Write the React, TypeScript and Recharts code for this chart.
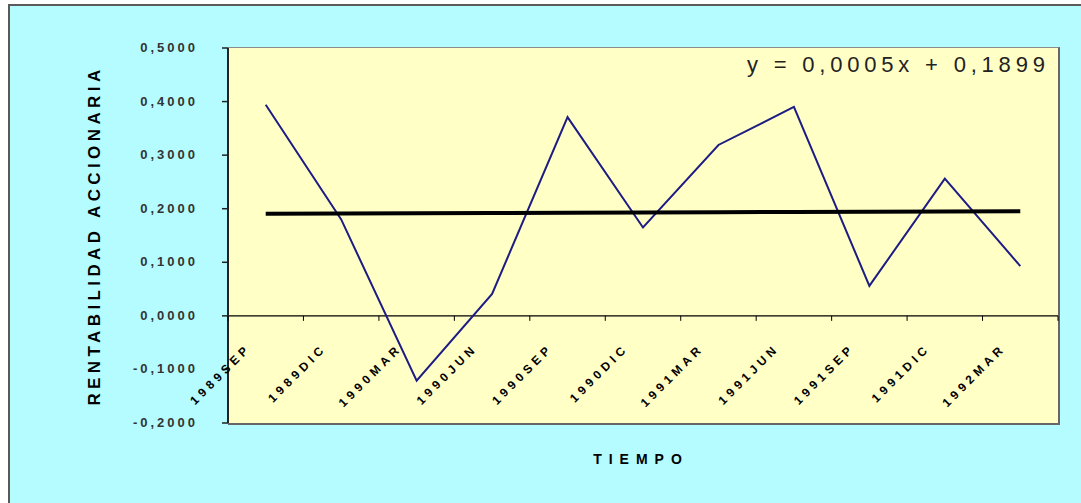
import React from 'react';
import { ComposedChart, Line, XAxis, YAxis, ReferenceLine } from 'recharts';

// Trimestres y rentabilidad accionaria
const categories = ['1989SEP', '1989DIC', '1990MAR', '1990JUN', '1990SEP', '1990DIC', '1991MAR', '1991JUN', '1991SEP', '1991DIC', '1992MAR'];
const rentabilidad = [0.394, 0.18, -0.121, 0.041, 0.371, 0.165, 0.319, 0.39, 0.056, 0.256, 0.093];
const yTicks = [-0.2, -0.1, 0, 0.1, 0.2, 0.3, 0.4, 0.5];

// Tendencia lineal: y = 0,0005x + 0,1899
const TREND_SLOPE = 0.0005;
const TREND_INTERCEPT = 0.1899;
const equationLabel = 'y = 0,0005x + 0,1899';

const W = 1081;
const H = 503;
const PLOT = { left: 228, top: 48, right: 1058, bottom: 423 };
const Y_MIN = -0.2;
const Y_MAX = 0.5;
const ZERO_Y = PLOT.top + (Y_MAX / (Y_MAX - Y_MIN)) * (PLOT.bottom - PLOT.top);
const BAND = (PLOT.right - PLOT.left) / categories.length;

const FONT = '"Liberation Sans", Arial, sans-serif';

const data = categories.map((periodo, i) => ({
  periodo,
  rent: rentabilidad[i],
  trend: TREND_INTERCEPT + TREND_SLOPE * (i + 1),
}));

const fmt = (v: number) => v.toFixed(4).replace('.', ',');

const PeriodTick = (props: any) => {
  const { x, index, payload } = props;
  const ax = x - 14;
  const ay = ZERO_Y + 33;
  const isLast = index === categories.length - 1;
  return (
    <g>
      <line x1={x - BAND / 2} x2={x - BAND / 2} y1={ZERO_Y} y2={ZERO_Y + 5} stroke="#000" />
      {isLast && <line x1={x + BAND / 2} x2={x + BAND / 2} y1={ZERO_Y} y2={ZERO_Y + 5} stroke="#000" />}
      <text
        x={ax}
        y={ay}
        textAnchor="end"
        transform={`rotate(-45 ${ax} ${ay})`}
        style={{ fontFamily: FONT, fontSize: 12, fontWeight: 'bold', letterSpacing: 4.2, fill: '#000' }}
      >
        {payload.value}
      </text>
    </g>
  );
};

const ValueTick = (props: any) => {
  const { x, y, payload } = props;
  return (
    <text
      x={x - 22}
      y={y}
      dy={4}
      textAnchor="end"
      style={{ fontFamily: FONT, fontSize: 13, fontWeight: 'bold', letterSpacing: 3, fill: '#333' }}
    >
      {fmt(payload.value)}
    </text>
  );
};

export default function App() {
  return (
    <div style={{ position: 'fixed', left: 0, top: 0, width: W, height: H, overflow: 'hidden', background: '#fff' }}>
      <div
        style={{
          position: 'absolute',
          left: 8,
          top: 4,
          width: W + 20,
          height: H + 20,
          background: '#B4FCFF',
          borderTop: '2px solid #5a5a5a',
          borderLeft: '2px solid #5a5a5a',
        }}
      />
      <div
        style={{
          position: 'absolute',
          left: PLOT.left,
          top: PLOT.top - 1,
          width: PLOT.right - PLOT.left,
          height: PLOT.bottom - PLOT.top,
          background: '#FFFFC6',
          borderTop: '1px solid #8a8a8a',
          borderRight: '2px solid #666',
          borderBottom: '2px solid #666',
        }}
      />
      <div style={{ position: 'absolute', left: 0, top: 0 }}>
        <ComposedChart width={W} height={H} data={data} margin={{ top: PLOT.top, right: W - PLOT.right, bottom: 0, left: 0 }}>
          <XAxis
            dataKey="periodo"
            height={H - PLOT.bottom}
            interval={0}
            padding={{ left: BAND / 2, right: BAND / 2 }}
            axisLine={false}
            tickLine={false}
            tick={<PeriodTick />}
          />
          <YAxis
            width={PLOT.left}
            domain={[Y_MIN, Y_MAX]}
            ticks={yTicks}
            allowDataOverflow
            axisLine={{ stroke: '#222', strokeWidth: 2 }}
            tickLine={{ stroke: '#222', strokeWidth: 1.5 }}
            tickSize={6}
            tick={<ValueTick />}
          />
          <ReferenceLine y={0} stroke="#000" strokeWidth={1.2} />
          <Line
            dataKey="rent"
            type="linear"
            stroke="#1C1C84"
            strokeWidth={2}
            dot={false}
            isAnimationActive={false}
          />
          <Line
            dataKey="trend"
            type="linear"
            stroke="#000"
            strokeWidth={4}
            dot={false}
            isAnimationActive={false}
          />
        </ComposedChart>
      </div>
      <svg width={W} height={H} style={{ position: 'absolute', left: 0, top: 0, pointerEvents: 'none' }}>
        <text
          x={94}
          y={(PLOT.top + PLOT.bottom) / 2}
          textAnchor="middle"
          dominantBaseline="central"
          transform={`rotate(-90 94 ${(PLOT.top + PLOT.bottom) / 2})`}
          style={{ fontFamily: FONT, fontSize: 17, fontWeight: 'bold', letterSpacing: 4.4, fill: '#000' }}
        >
          RENTABILIDAD ACCIONARIA
        </text>
        <text
          x={641}
          y={464}
          textAnchor="middle"
          style={{ fontFamily: FONT, fontSize: 14, fontWeight: 'bold', letterSpacing: 7, fill: '#000' }}
        >
          TIEMPO
        </text>
        <text
          x={747}
          y={72}
          style={{ fontFamily: FONT, fontSize: 22, letterSpacing: 4.8, fill: '#222' }}
        >
          {equationLabel}
        </text>
      </svg>
    </div>
  );
}
